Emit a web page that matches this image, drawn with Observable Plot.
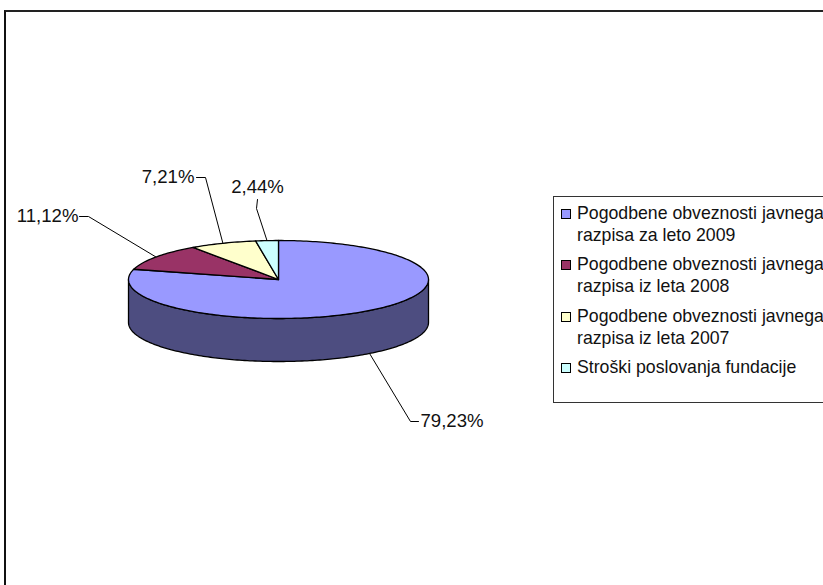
<!DOCTYPE html>
<html><head><meta charset="utf-8">
<script src="https://cdn.jsdelivr.net/npm/d3@7"></script>
<script src="https://cdn.jsdelivr.net/npm/@observablehq/plot@0.6"></script>
<style>
html,body{margin:0;padding:0;background:#fff}
#wrap{position:relative;width:823px;height:585px;overflow:hidden;font-family:"Liberation Sans",Arial,sans-serif;color:#000}
#frame{position:absolute;left:4px;top:10px;width:900px;height:700px;border-left:2px solid #111;border-top:2px solid #222;box-sizing:border-box}
#chart{position:absolute;left:0;top:0}
#chart svg{background:transparent;display:block}
#legend{position:absolute;left:553px;top:196px;width:320px;height:207px;border:1px solid #333;box-sizing:border-box}
.item{position:absolute;left:23px;font-size:17.7px;line-height:21.5px;white-space:nowrap;color:#111}
.sw{position:absolute;left:-16px;top:6px;width:8px;height:8px;border:1px solid #000}
</style></head><body>
<div id="wrap"><div id="frame"></div><div id="chart"></div><div id="legend"></div></div>
<script>
const categories = [
  "Pogodbene obveznosti javnega\nrazpisa za leto 2009",
  "Pogodbene obveznosti javnega\nrazpisa iz leta 2008",
  "Pogodbene obveznosti javnega\nrazpisa iz leta 2007",
  "Stroški poslovanja fundacije"
];
const shares = [79.23, 11.12, 7.21, 2.44];
const shareLabels = ["79,23%", "11,12%", "7,21%", "2,44%"];
const fills = ["#9999ff", "#993366", "#ffffcc", "#ccffff"];
const sideFill = "#4d4d80";

// layout (pixels on the 823x585 page)
const W = 823, H = 585, cx = 278, cy = 279, rx = 150, ry = 39, depth = 43;
const X = px => (px - cx) / rx, Y = py => (py - cy) / ry;   // page pixel -> pie units
const D = depth / ry;
const pt = (pct, drop = 0) => {
  const a = pct / 100 * 2 * Math.PI;
  return [Math.sin(a), -Math.cos(a) + drop];
};

// cumulative start of each slice, clockwise from twelve o'clock
const starts = d3.cumsum([0, ...shares.slice(0, -1)]);

const tops = shares.flatMap((s, i) => {
  const n = Math.max(2, Math.ceil(s * 3)), out = [{k: i, x: 0, y: 0}];
  for (let j = 0; j <= n; j++) {
    const [x, y] = pt(starts[i] + s * j / n);
    out.push({k: i, x, y});
  }
  out.push({k: i, x: 0, y: 0});
  return out;
});

// front wall: lower half of the ellipse, dropped by the depth
const wall = [];
for (let j = 0; j <= 180; j++) { const [x, y] = pt(25 + 50 * j / 180); wall.push({x, y}); }
for (let j = 180; j >= 0; j--) { const [x, y] = pt(25 + 50 * j / 180, D); wall.push({x, y}); }
wall.push(wall[0]);

// leader: anchor on the pie at the slice's mid-angle, then elbow and end
const layout = [
  {drop: D, elbow: [410, 421], end: [418, 421], tx: 420, ty: 421, anchor: "start"},
  {drop: 0, elbow: [88, 216], end: [79, 216], tx: 78, ty: 216, anchor: "end"},
  {drop: 0, elbow: [205, 177], end: [196, 177], tx: 194, ty: 177, anchor: "end"},
  {drop: 0, elbow: [256, 208], end: [257, 199], tx: 257, ty: 187, anchor: "middle"}
];
const leaders = layout.flatMap((l, i) => {
  const [x, y] = pt(starts[i] + shares[i] / 2, l.drop);
  return [{k: i, x, y}, {k: i, x: X(l.elbow[0]), y: Y(l.elbow[1])}, {k: i, x: X(l.end[0]), y: Y(l.end[1])}];
});
const labels = layout.map((l, i) => ({text: shareLabels[i], x: X(l.tx), y: Y(l.ty), anchor: l.anchor}));

const plot = Plot.plot({
  width: W, height: H, margin: 0,
  style: {background: "transparent", fontFamily: '"Liberation Sans", Arial, sans-serif'},
  x: {domain: [X(0), X(W)], range: [0, W], axis: null},
  y: {domain: [Y(0), Y(H)], range: [0, H], axis: null},
  color: {domain: d3.range(categories.length), range: fills},
  marks: [
    Plot.line(wall, {x: "x", y: "y", fill: sideFill, stroke: "#000", strokeWidth: 1.3, curve: "linear"}),
    Plot.line(tops, {x: "x", y: "y", z: "k", fill: d => d.k, stroke: "#000", strokeWidth: 1.3, curve: "linear"}),
    Plot.line(leaders, {x: "x", y: "y", z: "k", stroke: "#000", strokeWidth: 1, curve: "linear"}),
    ...["start", "end", "middle"].map(a => Plot.text(labels.filter(l => l.anchor === a), {
      x: "x", y: "y", text: "text", textAnchor: a, fontSize: 18.6, fill: "#111"
    }))
  ]
});
document.getElementById("chart").appendChild(plot);

const legend = document.getElementById("legend");
const tops_px = [6, 57, 109, 160];
categories.forEach((c, i) => {
  const d = document.createElement("div");
  d.className = "item";
  d.style.top = tops_px[i] + "px";
  d.innerHTML = `<span class="sw" style="background:${fills[i]}"></span>` + c.replace("\n", "<br>");
  legend.appendChild(d);
});
</script>
</body></html>
